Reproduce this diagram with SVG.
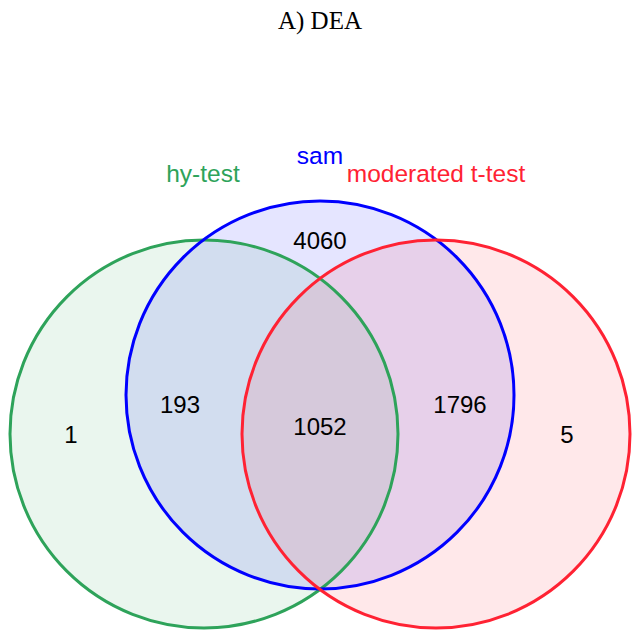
<svg xmlns="http://www.w3.org/2000/svg" width="640" height="640" viewBox="0 0 640 640">
<style>
.fill{stroke:none;fill-opacity:0.1}
.edge{fill:none;stroke-width:3}
.lab{font-family:"Liberation Sans",Arial,sans-serif;font-size:24.5px;text-anchor:middle}
.num{font-family:"Liberation Sans",Arial,sans-serif;font-size:24px;text-anchor:middle;fill:#000}
.title{font-family:"Liberation Serif","Times New Roman",serif;font-size:25px;text-anchor:middle;fill:#000}
</style>
<rect width="640" height="640" fill="#fff"/>
<text class="title" x="320" y="29">A) DEA</text>
<g id="fills">
<circle class="fill" cx="204" cy="434" r="194" fill="#2ea35a"/>
<circle class="fill" cx="320" cy="395" r="194" fill="#0000ff"/>
<circle class="fill" cx="436" cy="434" r="194" fill="#ff2233"/>
</g>
<g id="hy-test">
<circle class="edge" cx="204" cy="434" r="194" stroke="#2ea35a"/>
<text class="lab" x="203" y="182" fill="#2ea35a">hy-test</text>
</g>
<g id="sam">
<circle class="edge" cx="320" cy="395" r="194" stroke="#0000ff"/>
<text class="lab" x="320" y="164" fill="#0000ff">sam</text>
</g>
<g id="moderated">
<circle class="edge" cx="436" cy="434" r="194" stroke="#ff2233"/>
<text class="lab" x="436" y="182" fill="#ff2233">moderated t-test</text>
</g>
<g id="counts">
<text class="num" x="71" y="443">1</text>
<text class="num" x="180" y="413">193</text>
<text class="num" x="320" y="435">1052</text>
<text class="num" x="460" y="413">1796</text>
<text class="num" x="567" y="443">5</text>
<text class="num" x="320" y="249">4060</text>
</g>
</svg>
